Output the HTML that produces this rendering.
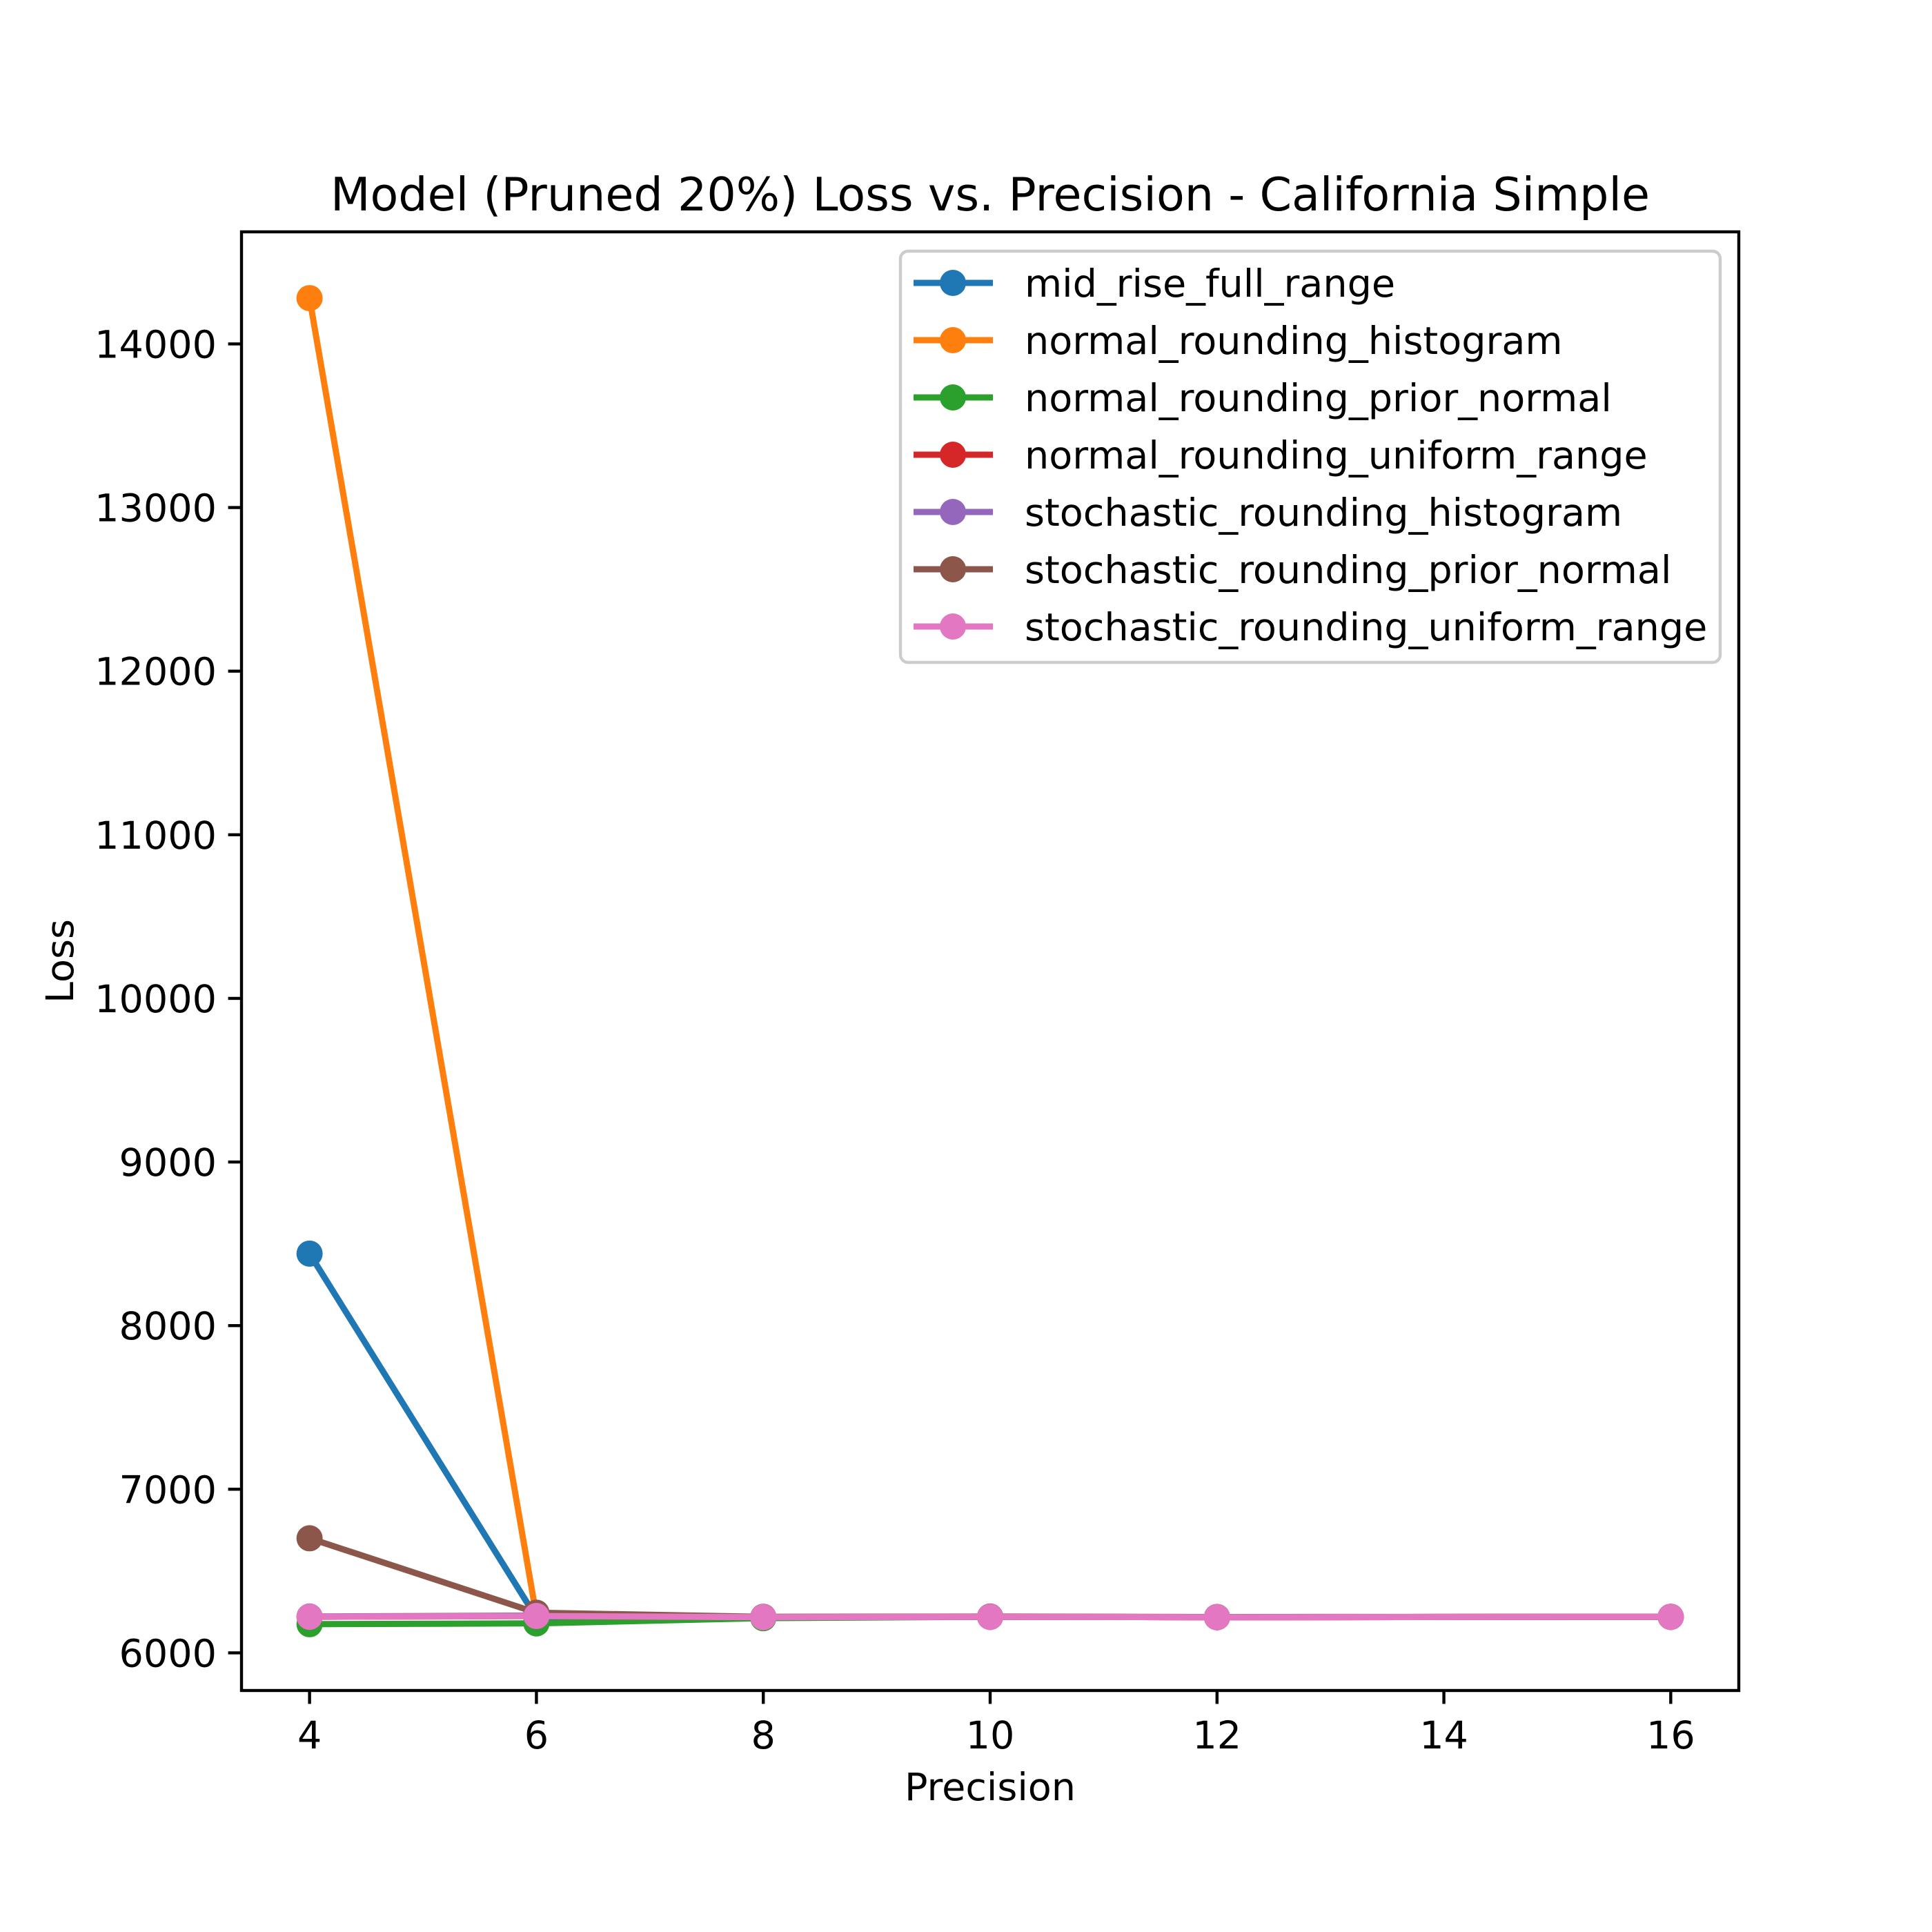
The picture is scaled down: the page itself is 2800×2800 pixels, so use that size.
<!DOCTYPE html>
<html><head><meta charset="utf-8"><style>html,body{margin:0;padding:0;background:#fff}svg{display:block}text{font-family:"DejaVu Sans","Liberation Sans",sans-serif;fill:#000}</style></head>
<body>
<svg id="chart" width="2800" height="2800" viewBox="0 0 2800 2800" xmlns="http://www.w3.org/2000/svg">
<rect width="2800" height="2800" fill="#fff"/>
<g id="plot"></g>
</svg>
<script>
const precisions = [4, 6, 8, 10, 12, 16];
const midRiseFullRange = [8440, 6215, 6218, 6220, 6218, 6220];
const normalRoundingHistogram = [14280, 6225, 6218, 6220, 6218, 6220];
const normalRoundingPriorNormal = [6175, 6180, 6212, 6220, 6218, 6220];
const normalRoundingUniformRange = [6220, 6225, 6218, 6220, 6218, 6220];
const stochasticRoundingHistogram = [6222, 6228, 6218, 6220, 6218, 6220];
const stochasticRoundingPriorNormal = [6700, 6245, 6220, 6222, 6219, 6220];
const stochasticRoundingUniformRange = [6220, 6225, 6218, 6220, 6218, 6220];
const seriesNames = ["mid_rise_full_range","normal_rounding_histogram","normal_rounding_prior_normal","normal_rounding_uniform_range","stochastic_rounding_histogram","stochastic_rounding_prior_normal","stochastic_rounding_uniform_range"];
const seriesValues = [midRiseFullRange, normalRoundingHistogram, normalRoundingPriorNormal, normalRoundingUniformRange, stochasticRoundingHistogram, stochasticRoundingPriorNormal, stochasticRoundingUniformRange];
const xTicks = [4, 6, 8, 10, 12, 14, 16];
const yTicks = [6000, 7000, 8000, 9000, 10000, 11000, 12000, 13000, 14000];

const colors = ["#1f77b4","#ff7f0e","#2ca02c","#d62728","#9467bd","#8c564b","#e377c2"];
const L=350,R=2520,T=336,B=2450;
const NS="http://www.w3.org/2000/svg";
const g=document.getElementById('plot');
function mk(tag,attrs,parent){const e=document.createElementNS(NS,tag);for(const k in attrs)e.setAttribute(k,attrs[k]);(parent||g).appendChild(e);return e;}
const xmin=Math.min(...precisions),xmax=Math.max(...precisions);
const xpad=(xmax-xmin)*0.05;
const allY=seriesValues.flat();
const ymin0=Math.min(...allY),ymax0=Math.max(...allY);
const ypad=(ymax0-ymin0)*0.05;
const X=v=>L+(v-(xmin-xpad))/((xmax+xpad)-(xmin-xpad))*(R-L);
const Y=v=>B-(v-(ymin0-ypad))/((ymax0+ypad)-(ymin0-ypad))*(B-T);

seriesValues.forEach((vals,i)=>{
  const sg=mk('g',{});
  
  
  const pts=vals.map((v,j)=>X(precisions[j]).toFixed(1)+','+Y(v).toFixed(1)).join(' ');
  const pl=mk('polyline',{points:pts,fill:'none',stroke:colors[i],'stroke-width':9,'stroke-linejoin':'round','stroke-linecap':'square'},sg);
  
  
  vals.forEach((v,j)=>{
    const c=mk('circle',{cx:X(precisions[j]),cy:Y(v),r:19,fill:colors[i]},sg);
    
    
  });
});

const frame=mk('rect',{x:L,y:T,width:R-L,height:B-T,fill:'none',stroke:'#000','stroke-width':4.4});



xTicks.forEach(t=>{
  const tk=mk('line',{x1:X(t),x2:X(t),y1:B,y2:B+19.4,stroke:'#000','stroke-width':4.4});
  
  
  const tx=mk('text',{x:X(t),y:B+84,'font-size':55.6,'text-anchor':'middle'});
  tx.textContent=t;
  
  
});
yTicks.forEach(t=>{
  const tk=mk('line',{x1:L-19.4,x2:L,y1:Y(t),y2:Y(t),stroke:'#000','stroke-width':4.4});
  
  
  const tx=mk('text',{x:L-36,y:Y(t)+20,'font-size':55.6,'text-anchor':'end'});
  tx.textContent=t;
  
  
});

const title=mk('text',{x:(L+R)/2,y:305,'font-size':66.7,'text-anchor':'middle'});
title.textContent='Model (Pruned 20%) Loss vs. Precision - California Simple';


const xl=mk('text',{x:(L+R)/2,y:2609,'font-size':55.6,'text-anchor':'middle'});
xl.textContent='Precision';


const yl=mk('text',{x:0,y:0,'font-size':55.6,'text-anchor':'middle',transform:'translate(106,'+((T+B)/2)+') rotate(-90)'});
yl.textContent='Loss';



const lg=mk('g',{});


mk('rect',{x:1305,y:364,width:1188,height:596,rx:11,fill:'#fff','fill-opacity':0.8,stroke:'#cccccc','stroke-width':4.4},lg);
seriesNames.forEach((n,i)=>{
  const y=410+i*83;
  const e=mk('g',{},lg);
  
  
  mk('line',{x1:1324,x2:1439,y1:y,y2:y,stroke:colors[i],'stroke-width':9},e);
  mk('circle',{cx:1381,cy:y,r:19,fill:colors[i]},e);
  const t=mk('text',{x:1485,y:y+20,'font-size':55.6},e);
  t.textContent=n;
});
</script>
</body></html>
